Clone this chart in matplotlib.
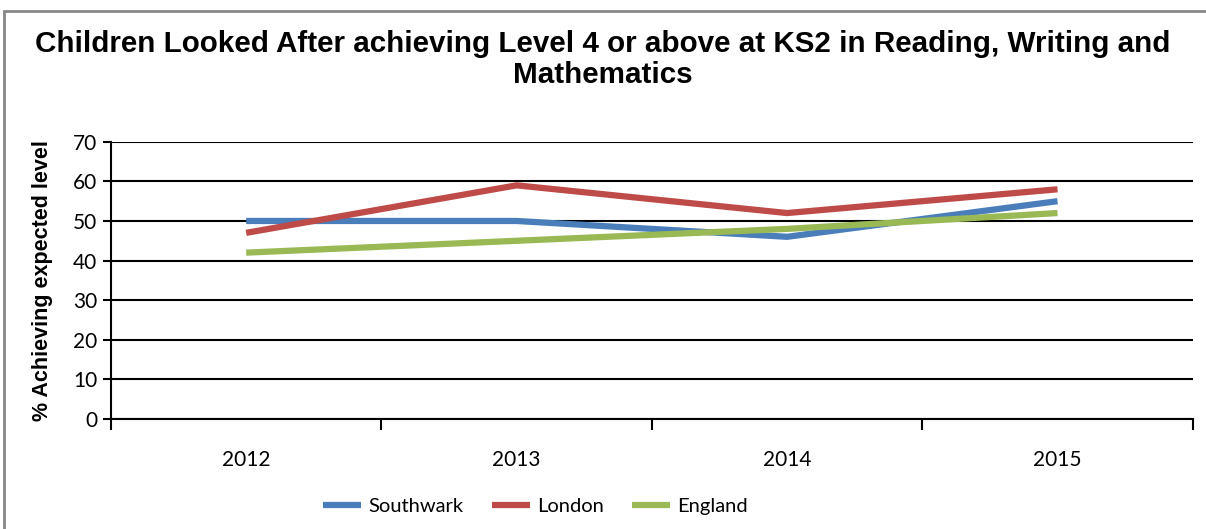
import matplotlib.pyplot as plt
from matplotlib.patches import Rectangle

years = ['2012', '2013', '2014', '2015']
southwark = [50, 50, 46, 55]
london = [47, 59, 52, 58]
england = [42, 45, 48, 52]

plt.rcParams['font.family'] = ['Liberation Sans', 'DejaVu Sans']

fig = plt.figure(figsize=(12.06, 5.29), dpi=100)
ax = fig.add_axes([0.092, 0.208, 0.897, 0.524])

x = range(len(years))
ax.plot(x, southwark, color='#4a7ebb', lw=4.5, label='Southwark', solid_capstyle='butt')
ax.plot(x, london, color='#be4b48', lw=4.5, label='London', solid_capstyle='butt')
ax.plot(x, england, color='#98b954', lw=4.5, label='England', solid_capstyle='butt')

ax.set_xlim(-0.5, 3.5)
ax.set_ylim(0, 70)
ax.set_yticks(range(0, 71, 10))
ax.set_xticks([i - 0.5 for i in range(5)])
ax.set_xticklabels([])
ax.set_xticks(list(x), minor=True)
ax.set_xticklabels(years, minor=True, fontsize=15, fontfamily='Lato')
ax.tick_params(axis='x', which='minor', length=0, pad=22)
ax.tick_params(axis='x', which='major', length=8, width=1.5, direction='out')
ax.tick_params(axis='y', length=6, width=1.5, labelsize=15, pad=4)
for lbl in ax.get_yticklabels():
    lbl.set_fontfamily('Lato')
ax.grid(axis='y', color='black', lw=1.5)
ax.set_axisbelow(True)
for s in ['top', 'right']:
    ax.spines[s].set_visible(False)
ax.spines['left'].set_linewidth(1.5)
ax.spines['bottom'].set_linewidth(1.5)

ax.set_ylabel('% Achieving expected level', fontsize=15.5, fontweight='bold', labelpad=14)

fig.text(0.5, 0.888, 'Children Looked After achieving Level 4 or above at KS2 in Reading, Writing and\nMathematics',
         ha='center', va='center', fontsize=21.3, fontweight='bold', linespacing=1.15)

fig.legend(loc='center', bbox_to_anchor=(0.444, 0.043), ncol=3, frameon=False,
           prop={'family': 'Lato', 'size': 14.5}, handlelength=1.9, handletextpad=0.35,
           columnspacing=1.4)

fig.patches.append(Rectangle((0.003, -0.01), 1.1, 0.99, transform=fig.transFigure,
                             fill=False, edgecolor='#888888', lw=2))

fig.savefig('out.png', dpi=100)
